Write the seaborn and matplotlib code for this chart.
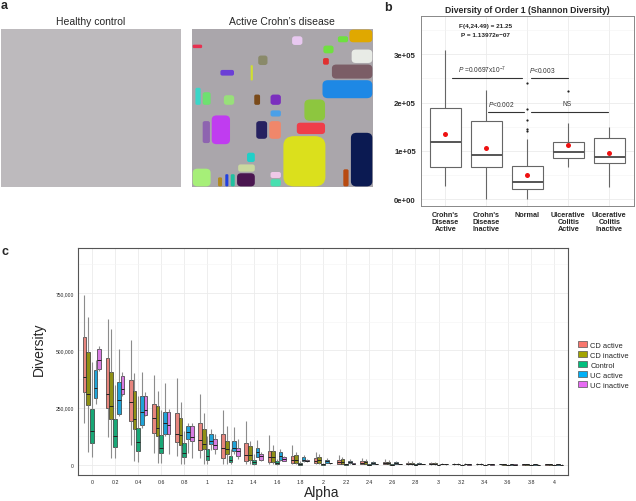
import numpy as np
import pandas as pd
import matplotlib.pyplot as plt
import seaborn as sns
from matplotlib.patches import FancyBboxPatch, Patch

# ---- panel b: box stats (low whisker, q1, median, q3, high whisker)
b_groups = ["Crohn's\nDisease\nActive", "Crohn's\nDisease\nInactive", "Normal",
            "Ulcerative\nColitis\nActive", "Ulcerative\nColitis\nInactive"]
b_stats = [(0.28e5, 0.66e5, 1.19e5, 1.89e5, 3.09e5),
           (0.00e5, 0.66e5, 0.92e5, 1.61e5, 2.26e5),
           (0.01e5, 0.21e5, 0.35e5, 0.68e5, 1.24e5),
           (0.67e5, 0.86e5, 0.98e5, 1.19e5, 1.58e5),
           (0.24e5, 0.75e5, 0.88e5, 1.26e5, 1.49e5)]
b_means = [1.35e5, 1.06e5, 0.50e5, 1.12e5, 0.95e5]
b_out_group = ["Normal"] * 5 + ["Ulcerative\nColitis\nActive"]
b_out_value = [2.41e5, 1.87e5, 1.64e5, 1.45e5, 1.42e5, 2.25e5]

# ---- panel c: box stats in thousands (low, q1, median, q3, high) per alpha
alpha_labels = ['0', '0.2', '0.4', '0.6', '0.8', '1', '1.2', '1.4', '1.6', '1.8', '2',
                '2.2', '2.4', '2.6', '2.8', '3', '3.2', '3.4', '3.6', '3.8', '4']
c_groups = ['CD active', 'CD inactive', 'Control', 'UC active', 'UC inactive']
c_colors = ['#F8766D', '#A3A500', '#00BF7D', '#00B0F6', '#E76BF3']

cd_active = [(181, 317, 385, 559, 743), (124, 249, 309, 465, 638), (86, 190, 274, 369, 546),
             (54, 139, 203, 264, 394), (39, 98, 137, 225, 379), (32, 63, 108, 182, 308),
             (4, 32, 76, 135, 240), (4, 16, 45, 94, 192), (4, 12, 33, 62, 131),
             (3, 9, 23, 38, 89), (3, 7, 17, 29, 58), (2, 5, 14, 23, 45),
             (2, 4, 10, 17, 32), (2, 3, 8, 14, 24), (1, 3, 6, 10, 18),
             (1, 3, 5, 8, 14), (1, 2, 4, 6, 10), (1, 2, 3, 5, 8),
             (1, 2, 3, 4, 6), (1, 1, 2, 3, 5), (1, 1, 2, 3, 4)]
cd_inactive = [(57, 261, 309, 493, 645), (32, 200, 257, 406, 594), (17, 159, 200, 322, 400),
               (7, 127, 160, 257, 323), (6, 88, 131, 204, 276), (3, 69, 93, 158, 225),
               (4, 48, 70, 106, 169), (4, 23, 45, 84, 106), (3, 12, 33, 60, 87),
               (3, 7, 23, 42, 58), (2, 7, 20, 34, 48), (2, 6, 14, 24, 35),
               (2, 5, 11, 19, 27), (1, 4, 8, 14, 20), (1, 3, 6, 10, 15),
               (1, 2, 5, 8, 12), (1, 2, 4, 6, 9), (1, 2, 3, 5, 7),
               (1, 1, 2, 4, 5), (1, 1, 2, 3, 4), (1, 1, 2, 3, 4)]
control = [(35, 96, 150, 244, 450), (32, 79, 125, 200, 350), (13, 61, 101, 160, 300),
           (10, 50, 76, 130, 240), (6, 35, 54, 95, 150), (3, 20, 39, 69, 127),
           (3, 12, 22, 41, 70), (1, 4, 12, 23, 48), (1, 3, 7, 15, 26),
           (0, 1, 4, 7, 15), (0, 1, 2, 4, 8), (0, 1, 2, 3, 6),
           (0, 1, 1, 2, 5), (0, 0.5, 1, 2, 4), (0, 0.5, 1, 2, 3),
           (0, 0.5, 1, 1.5, 3), (0, 0.5, 1, 1.5, 2), (0, 0.5, 1, 1, 2),
           (0, 0.5, 1, 1, 2), (0, 0.5, 1, 1, 2), (0, 0.5, 1, 1, 2)]
uc_active = [(266, 290, 336, 413, 456), (212, 223, 283, 360, 506), (163, 174, 230, 299, 404),
             (127, 137, 182, 233, 356), (54, 112, 142, 171, 185), (66, 93, 105, 133, 156),
             (48, 61, 74, 105, 164), (33, 36, 55, 74, 109), (19, 23, 39, 55, 70),
             (12, 15, 23, 35, 44), (8, 10, 15, 23, 30), (6, 8, 12, 18, 24),
             (4, 6, 9, 14, 19), (3, 5, 7, 11, 15), (2, 4, 5, 8, 11),
             (2, 3, 4, 6, 9), (1, 2, 3, 5, 7), (1, 2, 3, 4, 6),
             (1, 1, 2, 3, 5), (1, 1, 2, 3, 4), (1, 1, 2, 2, 3)]
uc_inactive = [(409, 419, 460, 506, 521), (302, 311, 331, 390, 404), (214, 217, 239, 299, 317),
               (47, 137, 174, 229, 244), (32, 105, 121, 171, 185), (47, 71, 88, 112, 137),
               (26, 38, 62, 74, 113), (19, 23, 38, 49, 58), (15, 16, 26, 33, 38),
               (13, 15, 19, 23, 26), (6, 7, 8, 9, 10), (4, 5, 6, 7, 8),
               (3, 4, 5, 5, 6), (2, 3, 4, 4, 5), (2, 2, 3, 3, 4),
               (1, 2, 2, 3, 3), (1, 1, 2, 2, 3), (1, 1, 2, 2, 2),
               (1, 1, 1, 2, 2), (1, 1, 1, 1, 2), (1, 1, 1, 1, 2)]
c_stats = [cd_active, cd_inactive, control, uc_active, uc_inactive]

sns.set_theme(style='whitegrid')
plt.rcParams['font.family'] = ['Liberation Sans', 'DejaVu Sans']
plt.rcParams['mathtext.fontset'] = 'custom'
plt.rcParams['mathtext.it'] = 'Liberation Sans:italic'
plt.rcParams['mathtext.rm'] = 'Liberation Sans'

fig = plt.figure(figsize=(6.36, 5.02), dpi=100)
W, H = 636, 502

def px_axes(x0, y0, x1, y1):
    return fig.add_axes([x0 / W, 1 - y1 / H, (x1 - x0) / W, (y1 - y0) / H])

# ---------------- panel a (image mosaics) ----------------
ax_h = px_axes(1, 30, 181, 188)
ax_h.set_facecolor('#bdbabd')
ax_h.set_xticks([]); ax_h.set_yticks([])
for s in ax_h.spines.values():
    s.set_visible(False)
ax_h.grid(False)

ax_c = px_axes(192, 30, 373, 188)
ax_c.set_facecolor('#aaa6ab')
ax_c.set_xlim(0, 1); ax_c.set_ylim(1, 0)
ax_c.set_xticks([]); ax_c.set_yticks([])
for s in ax_c.spines.values():
    s.set_visible(False)
ax_c.grid(False)

blocks = [
    (0.501, 0.674, 0.741, 1.000, '#dbe01c'), (0.874, 0.653, 1.000, 1.000, '#0b1a52'),
    (0.717, 0.320, 1.000, 0.442, '#1e88e5'), (0.769, 0.221, 1.000, 0.318, '#7b5d66'),
    (0.866, 0.000, 1.000, 0.088, '#e0a800'), (0.878, 0.126, 1.000, 0.219, '#e8ebe6'),
    (0.617, 0.442, 0.739, 0.585, '#8dc63f'), (0.575, 0.589, 0.739, 0.669, '#ef3e4a'),
    (0.105, 0.543, 0.214, 0.733, '#c03cf0'), (0.055, 0.579, 0.103, 0.726, '#8e64b0'),
    (0.351, 0.579, 0.419, 0.699, '#262160'), (0.423, 0.579, 0.495, 0.699, '#f0876a'),
    (0.000, 0.880, 0.107, 1.000, '#a6ef78'), (0.245, 0.909, 0.351, 1.000, '#4a1650'),
    (0.251, 0.853, 0.351, 0.907, '#c9d8a0'), (0.430, 0.947, 0.495, 1.000, '#48e0b0'),
    (0.832, 0.884, 0.869, 1.000, '#b84a10'), (0.430, 0.411, 0.495, 0.484, '#7b2fbe'),
    (0.340, 0.411, 0.380, 0.484, '#7a4a1a'), (0.172, 0.415, 0.237, 0.484, '#98e07a'),
    (0.015, 0.368, 0.052, 0.484, '#3ad6c8'), (0.055, 0.396, 0.107, 0.484, '#6ee070'),
    (0.153, 0.255, 0.236, 0.299, '#6b3fd6'), (0.549, 0.042, 0.614, 0.105, '#e8c8f0'),
    (0.802, 0.042, 0.866, 0.088, '#6ee040'), (0.362, 0.164, 0.421, 0.232, '#8a8a6a'),
    (0.722, 0.101, 0.786, 0.158, '#70e040'), (0.430, 0.511, 0.495, 0.558, '#4aa0e8'),
    (0.300, 0.779, 0.351, 0.846, '#20d0c8'), (0.430, 0.901, 0.495, 0.947, '#f0c8e8'),
    (0.000, 0.095, 0.060, 0.125, '#e83050'), (0.320, 0.225, 0.340, 0.330, '#d0e030'),
    (0.140, 0.935, 0.170, 1.000, '#b08a20'), (0.180, 0.915, 0.205, 1.000, '#2040e0'),
    (0.210, 0.915, 0.240, 1.000, '#20c0a0'), (0.720, 0.180, 0.760, 0.230, '#e03030'),
]
for x0, y0, x1, y1, col in blocks:
    r = min(x1 - x0, y1 - y0) * 0.25
    ax_c.add_patch(FancyBboxPatch((x0 + 0.004, y0 + 0.004), x1 - x0 - 0.008, y1 - y0 - 0.008,
                                  boxstyle=f'round,pad=0,rounding_size={r}',
                                  facecolor=col, edgecolor='none'))

fig.text(91 / W, 1 - 22 / H, 'Healthy control', ha='center', va='center', fontsize=7.5)
fig.text(282 / W, 1 - 22 / H, 'Active Crohn\u2019s disease', ha='center', va='center', fontsize=7.5)
fig.text(1 / W, 1 - 6 / H, 'a', fontsize=9, fontweight='bold', va='center')

# ---------------- panel b ----------------
rows = []
for g, s in zip(b_groups, b_stats):
    for v in s:
        rows.append((g, v))
df_b = pd.DataFrame(rows, columns=['Group', 'Diversity'])

axb = px_axes(420.7, 17.3, 634, 207)
sns.boxplot(data=df_b, x='Group', y='Diversity', order=b_groups, color='white',
            linecolor='#666666', linewidth=0.8, width=0.75, whis=(0, 100),
            showfliers=False, showcaps=False,
            medianprops=dict(color='#555555', linewidth=1.4), ax=axb)
sns.stripplot(x=b_out_group, y=b_out_value, order=b_groups, jitter=False,
              color='#222222', size=1.6, ax=axb)
sns.stripplot(x=b_groups, y=b_means, order=b_groups, jitter=False,
              color='#ee1111', size=3.6, ax=axb)
axb.set_xlim(-0.6, 4.6)
axb.set_ylim(-0.145e5, 3.79e5)
axb.set_yticks([0, 1e5, 2e5, 3e5])
axb.set_yticklabels(['0e+00', '1e+05', '2e+05', '3e+05'], fontsize=5.6, fontweight='bold')
axb.set_yticks([0.5e5, 1.5e5, 2.5e5, 3.5e5], minor=True)
axb.set_xticks(range(5))
axb.set_xticklabels(b_groups, fontsize=5.2, fontweight='bold', linespacing=1.0, va='top')
axb.set_xlabel(''); axb.set_ylabel('')
axb.grid(True, which='major', color='#ebebeb', linewidth=0.6)
axb.grid(True, which='minor', color='#f3f3f3', linewidth=0.4)
axb.tick_params(axis='both', which='major', length=2, width=0.5, color='#333333', pad=1.5)
axb.tick_params(axis='both', which='minor', length=0)
for s in axb.spines.values():
    s.set_color('#888888'); s.set_linewidth(0.7)
axb.set_title('Diversity of Order 1 (Shannon Diversity)', fontsize=6.2, fontweight='bold', pad=3)

brackets = [(0.16, 1.88, 2.52e5), (2.08, 2.98, 2.52e5), (1.03, 1.92, 1.81e5), (2.08, 3.96, 1.81e5)]
for x0, x1, y in brackets:
    axb.plot([x0, x1], [y, y], color='#333333', linewidth=0.8)
axb.text(0.9, 2.68e5, r'$P$ =0.0697x10$^{-7}$', fontsize=4.8, ha='center', va='center', color='#333333')
axb.text(2.37, 2.68e5, r'$P$<0.003', fontsize=4.8, ha='center', va='center', color='#333333')
axb.text(1.37, 1.98e5, r'$P$<0.002', fontsize=4.8, ha='center', va='center', color='#333333')
axb.text(2.96, 1.98e5, 'NS', fontsize=4.8, ha='center', va='center', color='#333333')
axb.text(0.98, 3.60e5, 'F(4,24.49) = 21.25', fontsize=4.6, fontweight='bold', ha='center', va='center')
axb.text(0.98, 3.42e5, 'P = 1.13972e\u221207', fontsize=4.6, fontweight='bold', ha='center', va='center')
fig.text(384 / W, 1 - 8 / H, 'b', fontsize=9, fontweight='bold', va='center')

# ---------------- panel c ----------------
rows = []
for g, stats in zip(c_groups, c_stats):
    for a, s in zip(alpha_labels, stats):
        for v in s:
            rows.append((a, g, v * 1000))
df_c = pd.DataFrame(rows, columns=['Alpha', 'Group', 'Diversity'])

axc = px_axes(78, 249, 568, 476)
sns.boxplot(data=df_c, x='Alpha', y='Diversity', hue='Group', order=alpha_labels,
            hue_order=c_groups, palette=c_colors, width=0.8, whis=(0, 100),
            showfliers=False, showcaps=False, linewidth=0.5, linecolor='#333333',
            whiskerprops=dict(color='#8c8c8c', linewidth=0.8),
            medianprops=dict(color='#222222', linewidth=0.7),
            legend=False, ax=axc)
axc.set_xlim(-0.6, 20.6)
axc.set_ylim(-44000, 947000)
axc.set_yticks([0, 250000, 500000, 750000])
axc.set_yticklabels(['0', '250,000', '500,000', '750,000'], fontsize=3.6)
axc.set_yticks([125000, 375000, 625000, 875000], minor=True)
axc.set_xticks(range(len(alpha_labels)))
axc.set_xticklabels(alpha_labels, fontsize=3.8)
axc.set_xlabel(''); axc.set_ylabel('')
axc.grid(True, which='major', color='#ebebeb', linewidth=0.6)
axc.grid(True, which='minor', axis='y', color='#f4f4f4', linewidth=0.4)
axc.tick_params(axis='both', which='major', length=2, width=0.5, color='#333333', pad=1)
axc.tick_params(axis='both', which='minor', length=0)
for s in axc.spines.values():
    s.set_color('#555555'); s.set_linewidth(0.8)

fig.text(322 / W, 1 - 493 / H, 'Alpha', fontsize=10, ha='center', va='center')
fig.text(39 / W, 1 - 349 / H, 'Diversity', fontsize=10, rotation=90, ha='center', va='center')
fig.text(2 / W, 1 - 252 / H, 'c', fontsize=9, fontweight='bold', va='center')

handles = [Patch(facecolor=c, edgecolor='#555555', linewidth=0.5, label=g)
           for g, c in zip(c_groups, c_colors)]
fig.legend(handles=handles, loc='center left', bbox_to_anchor=(574 / W, 1 - 366 / H),
           frameon=False, fontsize=5.4, handlelength=1.2, handleheight=0.9,
           handletextpad=0.5, labelspacing=0.3, borderpad=0)

fig.savefig('out.png', dpi=100)
